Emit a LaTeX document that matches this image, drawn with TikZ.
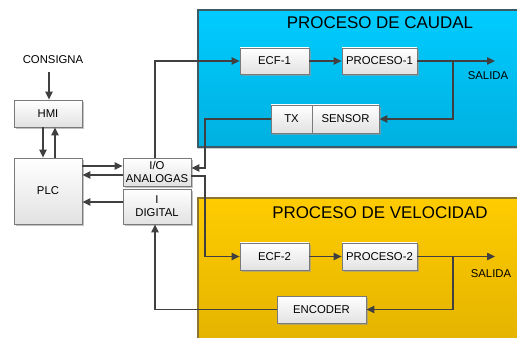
\documentclass[tikz,border=0pt]{standalone}
\usepackage{fontspec}
\setmainfont{Liberation Sans}
\usetikzlibrary{arrows.meta,shadows}
\definecolor{linec}{HTML}{404040}
\definecolor{boxborder}{HTML}{7A7A7A}
\definecolor{boxbot}{HTML}{E2E2E2}
\definecolor{bluetop}{HTML}{00CCFF}
\definecolor{bluebot}{HTML}{00B0E0}
\definecolor{bluebd}{HTML}{3C5A66}
\definecolor{yeltop}{HTML}{FFCC00}
\definecolor{yelbot}{HTML}{E2B200}
\definecolor{yelbd}{HTML}{8A7630}
\begin{document}
\begin{tikzpicture}[x=0.75pt,y=-0.75pt,
  blk/.style={draw=boxborder, line width=0.6pt, top color=white, bottom color=boxbot,
    drop shadow={shadow xshift=1.2pt,shadow yshift=-1.2pt,fill=black!40,opacity=0.6},
    inner sep=0pt, font=\fontsize{8.5}{9.8}\selectfont, align=center},
  conn/.style={draw=linec, line width=1pt},
  arr/.style={conn, -{Triangle[length=6pt,width=5.5pt]}},
  lbl/.style={font=\fontsize{8.5}{10}\selectfont, inner sep=0pt},
  ttl/.style={font=\fontsize{12.7}{15}\selectfont, inner sep=0pt}]
\useasboundingbox (0,0) rectangle (517,338);
\begin{scope}
\clip (0,0) rectangle (517,338);
\path[top color=bluetop, bottom color=bluebot, draw=bluebd, line width=1.2pt,
  drop shadow={shadow xshift=0pt,shadow yshift=-1.5pt,fill=black!40,opacity=0.5}]
  (198,10) rectangle (530,147);
\path[top color=yeltop, bottom color=yelbot, draw=yelbd, line width=1.2pt]
  (198,198) rectangle (530,350);
\end{scope}

\node[ttl] (ttla) at (380,23) {PROCESO DE CAUDAL};
\node[ttl] (ttlb) at (380,213) {PROCESO DE VELOCIDAD};

\node[lbl] (cons) at (53,60) {CONSIGNA};
\node[blk, minimum width=68*0.75pt, minimum height=27*0.75pt] (hmi) at (48,113.5) {HMI};
\node[blk, minimum width=68*0.75pt, minimum height=66*0.75pt] (plc) at (48,191) {PLC};
\node[blk, minimum width=68*0.75pt, minimum height=28*0.75pt] (io) at (157,172) {I/O\\ANALOGAS};
\node[blk, minimum width=68*0.75pt, minimum height=35*0.75pt] (dig) at (157,206.5) {I\\DIGITAL};

\node[blk, minimum width=69*0.75pt, minimum height=26*0.75pt] (ecfa) at (274.5,61) {ECF-1};
\node[blk, minimum width=75*0.75pt, minimum height=26*0.75pt] (proca) at (379.5,61) {PROCESO-1};
\node[blk, minimum width=41*0.75pt, minimum height=28*0.75pt] (tx) at (291.5,119) {TX};
\node[blk, minimum width=67*0.75pt, minimum height=28*0.75pt] (sens) at (345.5,119) {SENSOR};

\node[blk, minimum width=69*0.75pt, minimum height=27*0.75pt] (ecfb) at (274.5,256.5) {ECF-2};
\node[blk, minimum width=75*0.75pt, minimum height=27*0.75pt] (procb) at (379.5,256.5) {PROCESO-2};
\node[blk, minimum width=89*0.75pt, minimum height=27*0.75pt] (enc) at (321.5,309.5) {ENCODER};

\node[lbl] (sala) at (488,76) {SALIDA};
\node[lbl] (salb) at (491,274) {SALIDA};

\coordinate (outa) at (495,61);
\coordinate (bra) at (453,61);
\coordinate (outb) at (495,256.5);
\coordinate (brb) at (453,256.5);
\coordinate (ja) at (205,168);
\coordinate (jb) at (205,176);

% left side
\draw[arr] ([xshift=-3pt,yshift=-6pt]cons.south) -- ([xshift=-3pt]cons.south |- hmi.north);
\draw[arr] ([xshift=-3.75pt]hmi.south) -- ([xshift=-3.75pt]plc.north);
\draw[arr] ([xshift=5.25pt]plc.north) -- ([xshift=5.25pt]hmi.south);
\draw[arr] (plc.east |- 0,166) -- (io.west |- 0,166);
\draw[arr] (io.west |- 0,175) -- (plc.east |- 0,175);
\draw[arr] (dig.west |- 0,202) -- (plc.east |- 0,202);

% caudal loop
\draw[arr] ([xshift=-1.5pt]io.north) |- (ecfa.west);
\draw[arr] (ecfa) -- (proca);
\draw[arr] (proca) -- (outa);
\draw[arr] (bra) |- (sens.east);
\draw[arr] (tx.west) -| (ja) -- (ja -| io.east);

% velocidad loop
\draw[arr] (jb -| io.east) -- (jb) |- (ecfb.west);
\draw[arr] (ecfb) -- (procb);
\draw[arr] (procb) -- (outb);
\draw[arr] (brb) |- (enc.east);
\draw[arr] (enc.west) -| ([xshift=-1.5pt]dig.south);
\end{tikzpicture}
\end{document}
